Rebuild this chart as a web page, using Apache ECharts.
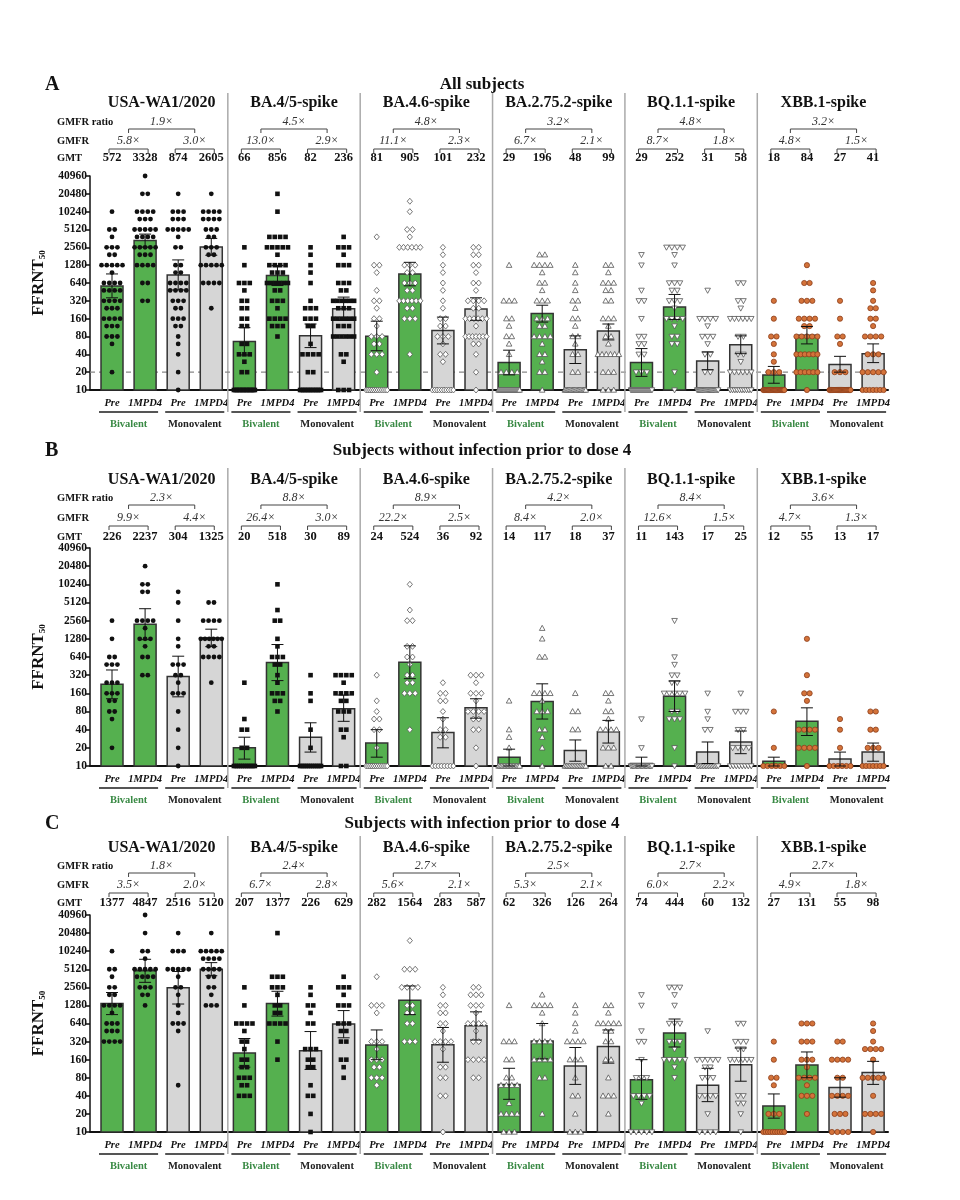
<!DOCTYPE html>
<html><head><meta charset="utf-8">
<script src="https://cdn.jsdelivr.net/npm/echarts@6/dist/echarts.min.js"></script>
<style>html,body{margin:0;padding:0;background:#fff}#chart{width:960px;height:1200px}</style>
</head><body><div id="chart"></div>
<script>
// ---------------- DATA ----------------
const strains = ['USA-WA1/2020','BA.4/5-spike','BA.4.6-spike','BA.2.75.2-spike','BQ.1.1-spike','XBB.1-spike'];
const xLabels = ['Pre','1MPD4','Pre','1MPD4'];
const vaccineLabels = ['Bivalent','Monovalent'];
const yTickLabels = ['10','20','40','80','160','320','640','1280','2560','5120','10240','20480','40960'];
const panelLetters = ['A','B','C'];
const panelTitles = ['All subjects','Subjects without infection prior to dose 4','Subjects with infection prior to dose 4'];
const rowLabels = ['GMFR ratio','GMFR','GMT'];

const gmtA = [572,3328,874,2605, 66,856,82,236, 81,905,101,232, 29,196,48,99, 29,252,31,58, 18,84,27,41];
const gmtB = [226,2237,304,1325, 20,518,30,89, 24,524,36,92, 14,117,18,37, 11,143,17,25, 12,55,13,17];
const gmtC = [1377,4847,2516,5120, 207,1377,226,629, 282,1564,283,587, 62,326,126,264, 74,444,60,132, 27,131,55,98];

const gmfrA = ['5.8×','3.0×','13.0×','2.9×','11.1×','2.3×','6.7×','2.1×','8.7×','1.8×','4.8×','1.5×'];
const gmfrB = ['9.9×','4.4×','26.4×','3.0×','22.2×','2.5×','8.4×','2.0×','12.6×','1.5×','4.7×','1.3×'];
const gmfrC = ['3.5×','2.0×','6.7×','2.8×','5.6×','2.1×','5.3×','2.1×','6.0×','2.2×','4.9×','1.8×'];

const ratioA = ['1.9×','4.5×','4.8×','3.2×','4.8×','3.2×'];
const ratioB = ['2.3×','8.8×','8.9×','4.2×','8.4×','3.6×'];
const ratioC = ['1.8×','2.4×','2.7×','2.5×','2.7×','2.7×'];

// 95% CI [low, high]
const ciA = [[360,910],[2590,4280],[490,1570],[1880,3620], [39,113],[580,1260],[52,130],[150,370], [46,145],[573,1430],[60,170],[150,360], [18,47],[140,270],[28,82],[70,130], [17,50],[155,410],[22,44],[41,82], [13,25],[60,118],[20,37],[29,60]];
const ciB = [[130,390],[1240,4040],[140,660],[950,1850], [13,30],[260,1030],[17,52],[55,150], [14,40],[280,980],[20,63],[62,130], [10,19],[60,230],[12,27],[24,57], [10,14],[80,255],[11,25],[16,38], [10,14],[32,92],[10,17],[12,24]];
const ciC = [[900,2100],[3100,7500],[1350,4700],[4000,6600], [120,360],[850,2200],[110,470],[370,1050], [160,500],[900,2700],[145,550],[340,1000], [35,115],[165,640],[62,255],[140,500], [35,160],[260,760],[32,115],[70,250], [17,43],[80,215],[38,80],[62,150]];

// individual titers: [titer, number of subjects]
const ptsA = [
 [[10240,1],[5120,2],[3840,1],[2560,3],[1920,2],[1280,5],[960,1],[640,4],[480,4],[320,4],[240,3],[160,4],[120,3],[80,3],[60,1],[20,1]],
 [[40960,1],[20480,2],[10240,4],[7680,3],[5120,5],[3840,4],[2560,5],[1920,3],[1280,4],[640,2],[320,2]],
 [[20480,1],[10240,3],[7680,3],[5120,5],[3840,1],[2560,2],[1280,2],[960,2],[640,4],[480,4],[320,3],[240,2],[160,3],[120,2],[80,1],[60,1],[40,1],[20,1],[10,1]],
 [[20480,1],[10240,4],[7680,4],[5120,3],[3840,2],[2560,3],[1920,2],[1280,5],[640,4],[240,1]],
 [[2560,1],[1280,1],[640,3],[480,1],[320,2],[240,2],[160,2],[120,2],[60,2],[40,3],[30,1],[20,2],[10,16]],
 [[20480,1],[10240,1],[3840,4],[2560,5],[1920,1],[1280,4],[960,3],[640,6],[480,2],[320,3],[240,1],[160,4],[120,3],[80,1]],
 [[2560,1],[1920,1],[1280,1],[960,1],[640,1],[320,1],[240,3],[160,3],[120,2],[60,1],[40,4],[20,2],[10,14]],
 [[3840,1],[2560,3],[1920,1],[1280,3],[640,3],[480,2],[320,6],[240,3],[160,6],[120,3],[80,6],[40,2],[30,1],[10,3]],
 [[3840,1],[1280,2],[960,1],[480,1],[320,2],[240,1],[160,2],[120,1],[80,3],[60,2],[40,3],[20,1],[10,12]],
 [[15360,1],[10240,1],[5120,2],[3840,1],[2560,6],[1280,3],[960,2],[640,3],[480,2],[320,6],[240,2],[160,3],[40,1]],
 [[2560,1],[1920,1],[1280,1],[960,1],[640,1],[480,1],[320,1],[240,1],[160,2],[120,2],[80,3],[60,1],[40,2],[30,1],[10,10]],
 [[2560,2],[1920,2],[1280,2],[960,1],[640,2],[480,1],[320,4],[240,2],[160,6],[120,1],[80,7],[60,2],[40,1],[20,1],[10,1]],
 [[1280,1],[320,3],[160,2],[120,1],[80,2],[60,1],[40,1],[20,4],[10,22]],
 [[1920,2],[1280,4],[960,1],[640,2],[480,1],[320,3],[160,3],[120,2],[80,4],[60,1],[40,2],[30,1],[20,2],[10,1]],
 [[1280,1],[960,1],[640,1],[480,1],[320,2],[240,1],[160,2],[120,1],[80,2],[60,1],[40,2],[20,2],[10,18]],
 [[1280,2],[960,1],[640,3],[480,2],[320,2],[160,3],[120,1],[80,2],[60,1],[40,6],[20,3],[10,3]],
 [[1920,1],[1280,1],[480,1],[320,2],[160,1],[80,2],[60,2],[40,2],[20,3],[10,22]],
 [[2560,4],[1920,1],[1280,1],[640,3],[480,2],[320,3],[240,1],[160,4],[120,1],[80,2],[60,2],[20,1],[10,1]],
 [[480,1],[160,4],[120,1],[80,3],[60,1],[40,2],[20,2],[10,20]],
 [[640,2],[320,2],[240,1],[160,6],[80,2],[40,2],[30,1],[20,6],[10,10]],
 [[320,1],[160,1],[80,2],[60,1],[40,1],[30,1],[20,3],[10,25]],
 [[1280,1],[640,2],[320,3],[160,4],[120,2],[80,5],[40,6],[20,6],[10,1]],
 [[320,1],[160,1],[80,2],[60,1],[20,3],[10,20]],
 [[640,1],[480,1],[320,1],[240,2],[160,2],[120,1],[80,4],[40,3],[20,5],[10,7]]
];
const ptsB = [
 [[2560,1],[1280,1],[640,2],[480,3],[240,3],[160,3],[120,2],[80,2],[60,1],[20,1]],
 [[20480,1],[10240,2],[7680,2],[2560,4],[1920,1],[1280,3],[960,1],[640,2],[320,2]],
 [[7680,1],[5120,1],[2560,1],[1280,1],[960,1],[480,3],[320,2],[240,1],[160,3],[80,1],[40,1],[20,1],[10,1]],
 [[5120,2],[2560,4],[1280,6],[960,2],[640,4],[240,1]],
 [[240,1],[60,1],[40,2],[20,2],[10,12]],
 [[10240,1],[3840,1],[2560,2],[1280,1],[960,1],[640,3],[480,2],[320,1],[240,1],[160,3],[120,2],[80,1]],
 [[320,1],[160,1],[120,1],[40,1],[20,1],[10,12]],
 [[320,4],[240,1],[160,4],[120,2],[80,3],[40,2],[30,1],[10,2]],
 [[320,1],[120,1],[80,1],[60,2],[40,2],[20,1],[10,12]],
 [[10240,1],[3840,1],[2560,2],[960,2],[640,2],[480,1],[320,2],[240,2],[160,3],[40,1]],
 [[240,1],[160,2],[120,2],[80,1],[60,1],[40,2],[30,2],[10,8]],
 [[320,3],[240,1],[160,3],[120,1],[80,4],[60,2],[40,2],[20,1],[10,1]],
 [[120,1],[40,1],[30,1],[20,1],[10,15]],
 [[1920,1],[1280,1],[640,2],[160,4],[120,1],[80,3],[40,2],[30,1],[20,1],[10,1]],
 [[160,1],[80,2],[40,2],[10,14]],
 [[160,2],[120,1],[80,2],[60,1],[40,4],[20,3],[10,2]],
 [[60,1],[20,1],[10,17]],
 [[2560,1],[640,1],[480,1],[320,2],[240,2],[160,5],[80,2],[60,3],[20,1],[10,1]],
 [[160,1],[80,1],[60,1],[40,2],[10,14]],
 [[160,1],[80,3],[40,2],[20,4],[10,8]],
 [[80,1],[20,1],[10,6]],
 [[1280,1],[320,1],[160,2],[120,1],[40,4],[20,4],[10,1]],
 [[60,1],[40,1],[20,1],[10,6]],
 [[80,2],[40,2],[20,3],[10,7]]
];
const ptsC = [
 [[10240,1],[5120,2],[3840,1],[2560,2],[1920,2],[1280,4],[960,1],[640,3],[480,3],[320,4]],
 [[40960,1],[20480,1],[10240,2],[7680,1],[5120,5],[3840,4],[2560,3],[1920,2],[1280,1]],
 [[20480,1],[10240,3],[5120,5],[3840,1],[2560,2],[1920,1],[1280,1],[960,1],[640,3],[480,1],[60,1]],
 [[20480,1],[10240,5],[7680,4],[5120,4],[3840,2],[2560,2],[1920,1],[1280,3]],
 [[2560,1],[1280,1],[640,4],[480,1],[320,2],[240,1],[160,2],[120,2],[80,3],[60,2],[40,3]],
 [[20480,1],[3840,3],[2560,3],[1920,1],[1280,2],[960,2],[640,4],[320,1],[160,1]],
 [[2560,1],[1920,1],[1280,2],[960,1],[640,2],[240,3],[160,2],[120,2],[60,1],[40,2],[20,1],[10,1]],
 [[3840,1],[2560,3],[1920,1],[1280,3],[640,3],[480,2],[320,2],[160,2],[120,1],[80,1]],
 [[3840,1],[1280,3],[960,1],[320,3],[240,1],[160,3],[120,2],[80,3],[60,1]],
 [[15360,1],[5120,3],[2560,4],[1280,2],[960,2],[640,2],[320,3]],
 [[2560,1],[1920,1],[1280,2],[960,2],[640,2],[480,1],[320,4],[240,1],[120,2],[80,2],[40,2],[10,1]],
 [[2560,2],[1920,3],[1280,3],[960,1],[640,4],[480,1],[320,2],[160,4],[80,2]],
 [[1280,1],[320,3],[160,2],[80,2],[60,4],[30,1],[20,4],[10,3]],
 [[1920,1],[1280,4],[960,1],[640,1],[320,4],[160,4],[80,2],[20,1]],
 [[1280,1],[960,1],[640,1],[480,1],[320,4],[160,3],[80,1],[40,2],[20,1],[10,3]],
 [[1280,2],[960,1],[640,5],[480,2],[320,2],[160,2],[80,1],[40,3],[20,1]],
 [[1920,1],[1280,1],[480,1],[320,2],[160,1],[80,3],[40,4],[30,1],[10,5]],
 [[2560,3],[1920,1],[1280,1],[640,3],[320,3],[240,1],[160,5],[120,1],[80,1]],
 [[480,1],[160,5],[120,2],[80,3],[40,4],[20,1],[10,4]],
 [[640,2],[320,3],[240,2],[160,6],[40,2],[30,2],[20,1],[10,1]],
 [[320,1],[160,1],[80,2],[60,1],[20,3],[10,10]],
 [[640,3],[320,3],[160,3],[120,1],[80,4],[60,1],[40,3],[20,1]],
 [[320,2],[160,4],[80,2],[40,4],[20,3],[10,4]],
 [[640,1],[480,1],[320,1],[240,4],[160,1],[80,5],[40,1],[20,4],[10,1]]
];

// ---------------- LAYOUT / STYLE ----------------
const FONT = '"Liberation Serif","Times New Roman",serif';
const GREEN = '#55b04f', GREY = '#d6d6d6', EDGE = '#333';
const X_MIN = -0.665, X_MAX = 23.45;
const lg = v => Math.log2(v / 10);

const layouts = [
 {top:176,h:214,letterY:85, strainY:103,ratioY:122,gmfrY:141,gmtY:158,sepTop:93, refLine:true},
 {top:548,h:218,letterY:451,strainY:480,ratioY:498,gmfrY:518,gmtY:537,sepTop:468,refLine:false},
 {top:915,h:217,letterY:824,strainY:848,ratioY:866,gmfrY:885,gmtY:903,sepTop:836,refLine:false}
];
const panels = [
 {gmt:gmtA,gmfr:gmfrA,ratio:ratioA,ci:ciA,pts:ptsA},
 {gmt:gmtB,gmfr:gmfrB,ratio:ratioB,ci:ciB,pts:ptsB},
 {gmt:gmtC,gmfr:gmfrC,ratio:ratioC,ci:ciC,pts:ptsC}
];

function txt(text, x, y, font, fill, align) {
  return {type:'text', style:{text, x, y, font, fill: fill || '#111',
    align: align || 'center', verticalAlign:'middle', textAlign: align || 'center', textVerticalAlign:'middle'}};
}
function line(points, stroke, lw, dash) {
  return {type:'polyline', shape:{points}, style:{stroke, lineWidth:lw, fill:null, lineDash: dash || null}};
}
function marker(g, cx, cy) {
  switch (g) {
    case 0: return {type:'circle', shape:{cx, cy, r:2.4}, style:{fill:'#111'}};
    case 1: return {type:'rect', shape:{x:cx-2.3, y:cy-2.3, width:4.6, height:4.6}, style:{fill:'#111'}};
    case 2: return {type:'polygon', shape:{points:[[cx,cy-3],[cx+2.6,cy],[cx,cy+3],[cx-2.6,cy]]}, style:{fill:'#fff', stroke:'#555', lineWidth:0.8}};
    case 3: return {type:'polygon', shape:{points:[[cx,cy-2.9],[cx+2.8,cy+2.2],[cx-2.8,cy+2.2]]}, style:{fill:'#fff', stroke:'#555', lineWidth:0.8}};
    case 4: return {type:'polygon', shape:{points:[[cx,cy+2.9],[cx+2.8,cy-2.2],[cx-2.8,cy-2.2]]}, style:{fill:'#fff', stroke:'#555', lineWidth:0.8}};
    default: return {type:'circle', shape:{cx, cy, r:2.6}, style:{fill:'#d4733a', stroke:'#8b3d1a', lineWidth:0.8}};
  }
}

const series = [];
panels.forEach((P, p) => {
  const L = layouts[p];
  // header, labels, separators
  series.push({
    type:'custom', xAxisIndex:p, yAxisIndex:p, z:1, silent:true, clip:false,
    data: strains.map((s, g) => [g]),
    renderItem: (params, api) => {
      const g = api.value(0);
      const xs = [0,1,2,3].map(k => api.coord([g*4+k, 0])[0]);
      const axisY = api.coord([0,0])[1];
      const m1 = (xs[0]+xs[1])/2, m2 = (xs[2]+xs[3])/2, mc = (xs[0]+xs[3])/2;
      const ch = [];
      ch.push(txt(strains[g], mc, L.strainY, 'bold 16px ' + FONT));
      ch.push(txt(P.ratio[g], mc, L.ratioY, 'italic 12px ' + FONT, '#333'));
      const ry = L.ratioY + 7;
      ch.push(line([[m1,ry+4],[m1,ry],[m2,ry],[m2,ry+4]], '#444', 1));
      const gy = L.gmfrY + 8;
      [[0,1],[2,3]].forEach((pr, j) => {
        ch.push(txt(P.gmfr[g*2+j], (xs[pr[0]]+xs[pr[1]])/2, L.gmfrY, 'italic 12px ' + FONT, '#333'));
        ch.push(line([[xs[pr[0]]-3,gy+4],[xs[pr[0]]-3,gy],[xs[pr[1]]+3,gy],[xs[pr[1]]+3,gy+4]], '#444', 1));
        ch.push(line([[xs[pr[0]]-13, axisY+22],[xs[pr[1]]+13, axisY+22]], '#555', 2));
        ch.push(txt(vaccineLabels[j], (xs[pr[0]]+xs[pr[1]])/2, axisY+34, 'bold 10.5px ' + FONT, j === 0 ? '#3a8a45' : '#222'));
      });
      for (let k = 0; k < 4; k++) {
        ch.push(txt(String(P.gmt[g*4+k]), xs[k], L.gmtY, 'bold 12.5px ' + FONT));
        ch.push(txt(xLabels[k], xs[k], axisY+13, 'italic bold 10.5px ' + FONT));
      }
      if (g < 5) {
        const sx = api.coord([g*4+3.5, 0])[0];
        ch.push(line([[sx, L.sepTop],[sx, axisY+22]], '#aaa', 1.5));
      }
      if (g === 0) {
        ch.push(txt(panelLetters[p], 45, L.letterY, 'bold 20px ' + FONT, '#111', 'left'));
        ch.push(txt(panelTitles[p], 482, L.letterY, 'bold 17px ' + FONT));
        ch.push(txt(rowLabels[0], 57, L.ratioY, 'bold 10.5px ' + FONT, '#111', 'left'));
        ch.push(txt(rowLabels[1], 57, L.gmfrY, 'bold 10.5px ' + FONT, '#111', 'left'));
        ch.push(txt(rowLabels[2], 57, L.gmtY, 'bold 10.5px ' + FONT, '#111', 'left'));
        if (L.refLine) {
          const a = api.coord([X_MIN, lg(20)]), b = api.coord([X_MAX, lg(20)]);
          ch.push(line([a, b], '#888', 1.2, [5, 4]));
        }
      }
      return {type:'group', children:ch};
    }
  });
  // bars (GMT)
  series.push({
    type:'custom', xAxisIndex:p, yAxisIndex:p, z:2, silent:true,
    data: P.gmt.map((v, i) => [i, lg(v)]),
    renderItem: (params, api) => {
      const i = api.value(0);
      const top = api.coord([i, api.value(1)]);
      const y0 = api.coord([i, 0])[1];
      return {type:'rect', shape:{x:top[0]-11, y:top[1], width:22, height:y0-top[1]},
        style:{fill: (i % 4) < 2 ? GREEN : GREY, stroke:EDGE, lineWidth:1.5}};
    }
  });
  // individual points
  const ptData = [];
  P.pts.forEach((list, i) => list.forEach(([v, n]) => { for (let k = 0; k < n; k++) ptData.push([i, lg(v), k, n]); }));
  series.push({
    type:'custom', xAxisIndex:p, yAxisIndex:p, z:3, silent:true, clip:false,
    data: ptData,
    renderItem: (params, api) => {
      const i = api.value(0), k = api.value(2), n = api.value(3);
      const c = api.coord([i, api.value(1)]);
      const s = n > 1 ? Math.min(5.4, 21 / (n - 1)) : 0;
      return marker(Math.floor(i / 4), c[0] + (k - (n - 1) / 2) * s, c[1]);
    }
  });
  // error bars (95% CI)
  series.push({
    type:'custom', xAxisIndex:p, yAxisIndex:p, z:4, silent:true,
    data: P.ci.map((c, i) => [i, lg(c[0]), lg(c[1])]),
    renderItem: (params, api) => {
      const i = api.value(0);
      const lo = api.coord([i, api.value(1)]), hi = api.coord([i, api.value(2)]);
      const x = lo[0];
      return {type:'group', children:[
        line([[x, lo[1]],[x, hi[1]]], '#111', 1),
        line([[x-6, hi[1]],[x+6, hi[1]]], '#111', 1),
        line([[x-6, lo[1]],[x+6, lo[1]]], '#111', 1)
      ]};
    }
  });
});

const option = {
  animation:false,
  backgroundColor:'#fff',
  grid: layouts.map(L => ({left:90, width:798, top:L.top, height:L.h, containLabel:false, outerBoundsMode:'none'})),
  xAxis: layouts.map((L, p) => ({gridIndex:p, type:'value', min:X_MIN, max:X_MAX,
    axisLine:{show:true, onZero:false, lineStyle:{color:'#111', width:2}},
    axisTick:{show:false}, axisLabel:{show:false}, splitLine:{show:false}})),
  yAxis: layouts.map((L, p) => ({gridIndex:p, type:'value', min:0, max:12, interval:1,
    axisLine:{show:true, onZero:false, lineStyle:{color:'#111', width:1.5}},
    axisTick:{show:true, length:4, lineStyle:{color:'#111', width:1.5}},
    axisLabel:{formatter: v => yTickLabels[Math.round(v)], fontFamily:FONT, fontWeight:'bold', fontSize:11.5, color:'#111', margin:3},
    splitLine:{show:false},
    name:'{a|FFRNT}{b|50}', nameLocation:'middle', nameGap:38, nameRotate:90,
    nameTextStyle:{rich:{
      a:{fontFamily:FONT, fontWeight:'bold', fontSize:17, color:'#111'},
      b:{fontFamily:FONT, fontWeight:'bold', fontSize:9, color:'#111', verticalAlign:'bottom', padding:[8,0,0,0]}}}
  })),
  series
};
const chart = echarts.init(document.getElementById('chart'), null, {renderer:'canvas'});
chart.setOption(option);
</script></body></html>
